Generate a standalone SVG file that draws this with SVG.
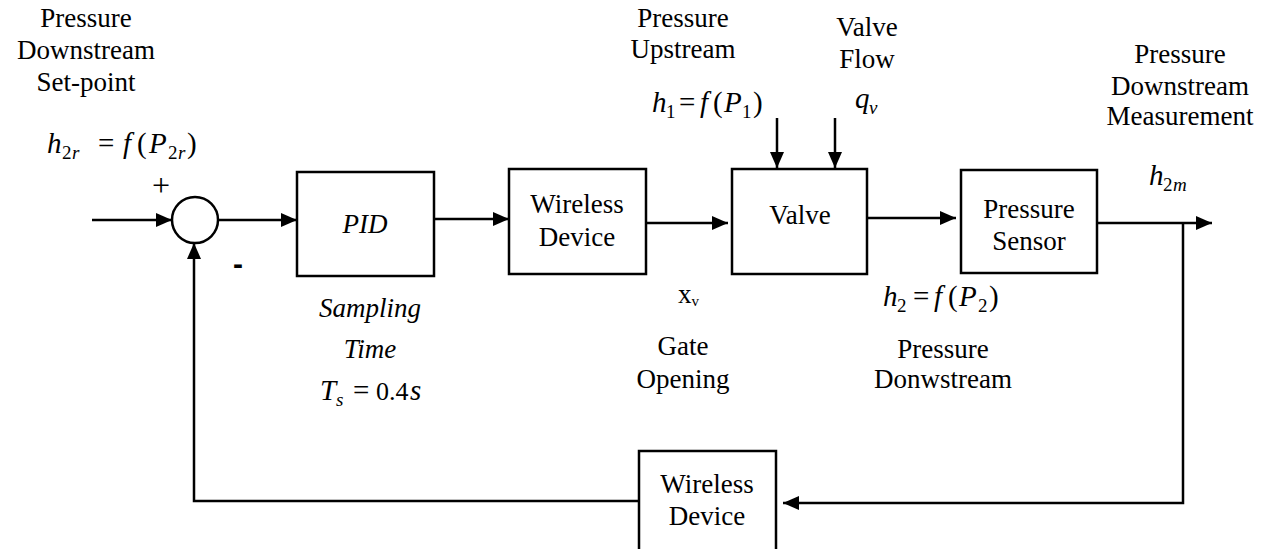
<svg xmlns="http://www.w3.org/2000/svg" width="1268" height="549" viewBox="0 0 1268 549" font-family="Liberation Serif, serif">
<style>
text{font-size:27px;fill:#000}
.c{text-anchor:middle}
.i{font-style:italic}
.m{font-size:29px}
.s{font-size:19px}
.box{fill:#fff;stroke:#000;stroke-width:2.5}
.ln{fill:none;stroke:#000;stroke-width:2.5}
</style>
<defs>
<marker id="ah" viewBox="0 0 16 14" refX="16" refY="7" markerWidth="16" markerHeight="14" markerUnits="userSpaceOnUse" orient="auto">
<path d="M0,0 L16,7 L0,14 Z" fill="#000"/>
</marker>
</defs>
<rect width="1268" height="549" fill="#fff"/>

<g id="connectors">
<line class="ln" x1="92" y1="220" x2="172" y2="220" marker-end="url(#ah)"/>
<line class="ln" x1="218" y1="220" x2="297" y2="220" marker-end="url(#ah)"/>
<line class="ln" x1="434" y1="219" x2="509" y2="219" marker-end="url(#ah)"/>
<line class="ln" x1="646" y1="223" x2="728" y2="223" marker-end="url(#ah)"/>
<line class="ln" x1="777" y1="118" x2="777" y2="168" marker-end="url(#ah)"/>
<line class="ln" x1="835" y1="118" x2="835" y2="168" marker-end="url(#ah)"/>
<line class="ln" x1="867" y1="218" x2="956" y2="218" marker-end="url(#ah)"/>
<line class="ln" x1="1097" y1="223" x2="1212" y2="223" marker-end="url(#ah)"/>
<polyline class="ln" points="1183,223 1183,503 783,503" marker-end="url(#ah)"/>
<polyline class="ln" points="639,501 194,501 194,243" marker-end="url(#ah)"/>
</g>

<g id="sum">
<circle cx="195" cy="220" r="23" fill="#fff" stroke="#000" stroke-width="2.5"/>
<text x="161" y="196" class="c" style="font-size:32px">+</text>
<text x="238" y="274" class="c" font-family="Liberation Sans, sans-serif" style="font-size:30px;font-weight:bold">-</text>
</g>

<g id="pid">
<rect class="box" x="297" y="172" width="137" height="104"/>
<text x="365" y="233" class="c i">PID</text>
</g>

<g id="wireless1">
<rect class="box" x="509" y="169" width="137" height="105"/>
<text x="577" y="213" class="c">Wireless</text>
<text x="577" y="246" class="c">Device</text>
</g>

<g id="valve">
<rect class="box" x="732" y="169" width="135" height="105"/>
<text x="800" y="224" class="c">Valve</text>
</g>

<g id="sensor">
<rect class="box" x="961" y="170" width="136" height="103"/>
<text x="1029" y="218" class="c">Pressure</text>
<text x="1029" y="250" class="c">Sensor</text>
</g>

<g id="wireless2">
<rect class="box" x="639" y="451" width="137" height="110"/>
<text x="707" y="493" class="c">Wireless</text>
<text x="707" y="525" class="c">Device</text>
</g>

<g id="labels">
<text x="86" y="27" class="c">Pressure</text>
<text x="86" y="59" class="c">Downstream</text>
<text x="86" y="91" class="c">Set-point</text>
<text class="m" y="153"><tspan x="47" class="i">h</tspan><tspan x="62" y="159" class="s">2</tspan><tspan x="72" y="159" class="s i">r</tspan><tspan x="98" y="153">=</tspan><tspan x="123" class="i">f</tspan><tspan x="137">(</tspan><tspan x="149" class="i">P</tspan><tspan x="168" y="159" class="s">2</tspan><tspan x="178" y="159" class="s i">r</tspan><tspan x="187" y="153">)</tspan></text>

<text x="683" y="27" class="c">Pressure</text>
<text x="683" y="58" class="c">Upstream</text>
<text class="m" y="112"><tspan x="652" class="i">h</tspan><tspan x="666" y="118" class="s">1</tspan><tspan x="679" y="112">=</tspan><tspan x="700" class="i">f</tspan><tspan x="713">(</tspan><tspan x="724" class="i">P</tspan><tspan x="742" y="118" class="s">1</tspan><tspan x="753" y="112">)</tspan></text>

<text x="867" y="36" class="c">Valve</text>
<text x="867" y="68" class="c">Flow</text>
<text class="m" y="108"><tspan x="855" class="i">q</tspan><tspan x="869" y="114" class="s i">v</tspan></text>

<text x="1180" y="63" class="c">Pressure</text>
<text x="1180" y="95" class="c">Downstream</text>
<text x="1180" y="125" class="c">Measurement</text>
<text class="m" y="185"><tspan x="1149" class="i">h</tspan><tspan x="1163" y="191" class="s">2</tspan><tspan x="1173" y="191" class="s i">m</tspan></text>

<text x="370" y="317" class="c i">Sampling</text>
<text x="370" y="358" class="c i">Time</text>
<text class="m" y="400"><tspan x="320" class="i">T</tspan><tspan x="336" y="406" class="s i">s</tspan><tspan x="353" y="400">=</tspan><tspan x="376" style="font-size:26px">0.4</tspan><tspan x="410" class="i">s</tspan></text>

<text x="678" y="303"><tspan>x</tspan><tspan style="font-size:15px" dy="3">v</tspan></text>
<text x="683" y="355" class="c">Gate</text>
<text x="683" y="388" class="c">Opening</text>

<text class="m" y="306"><tspan x="883" class="i">h</tspan><tspan x="897" y="312" class="s">2</tspan><tspan x="913" y="306">=</tspan><tspan x="934" class="i">f</tspan><tspan x="948">(</tspan><tspan x="959" class="i">P</tspan><tspan x="978" y="312" class="s">2</tspan><tspan x="989" y="306">)</tspan></text>
<text x="943" y="358" class="c">Pressure</text>
<text x="943" y="388" class="c">Donwstream</text>
</g>
</svg>
